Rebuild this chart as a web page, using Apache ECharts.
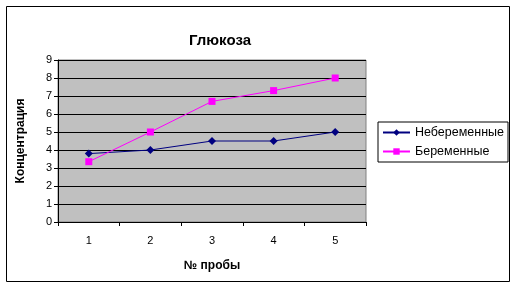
<!DOCTYPE html>
<html><head><meta charset="utf-8">
<script src="https://cdn.jsdelivr.net/npm/echarts@6/dist/echarts.min.js"></script>
<style>html,body{margin:0;padding:0;background:#fff}#c{width:516px;height:287px}</style>
</head><body><div id="c"></div>
<script>
const categories = ['1','2','3','4','5'];
const nonPregnant = [3.8, 4.0, 4.5, 4.5, 5.0];
const pregnant = [3.35, 5.0, 6.7, 7.3, 8.0];
const seriesNames = ['Небеременные','Беременные'];
const F = '"Liberation Sans", Arial, sans-serif';
const chart = echarts.init(document.getElementById('c'), null, {renderer:'canvas'});
chart.setOption({
  backgroundColor:'#fff',
  animation:false,
  graphic:[{type:'rect', shape:{x:6.5,y:6.5,width:503,height:275}, style:{fill:'none',stroke:'#000',lineWidth:1}, z:-1}],
  title:{text:'Глюкоза', left:215, top:28, textAlign:'center',
    textStyle:{fontFamily:F,fontSize:15,fontWeight:'bold',color:'#000'}},
  legend:{orient:'vertical', left:378, top:122, padding:[4,4,4,4], itemGap:6,
    borderColor:'#000', borderWidth:1, itemWidth:27, itemHeight:8,
    textStyle:{fontFamily:F,fontSize:12.5,color:'#000'}, data:seriesNames},
  grid:{left:58, top:60, width:308, height:162, show:true, backgroundColor:'#c0c0c0', borderColor:'#808080', borderWidth:1},
  xAxis:{type:'category', data:categories, boundaryGap:true,
    name:'№ пробы', nameLocation:'middle', nameGap:38,
    nameTextStyle:{fontFamily:F,fontSize:12,fontWeight:'bold',color:'#000'},
    axisLine:{lineStyle:{color:'#000'}}, axisTick:{show:true,length:4,lineStyle:{color:'#000'}},
    axisLabel:{fontFamily:F,fontSize:11,color:'#000',margin:13}, splitLine:{show:false}},
  yAxis:{type:'value', min:0, max:9, interval:1,
    name:'Концентрация', nameLocation:'middle', nameGap:31, nameRotate:90,
    nameTextStyle:{fontFamily:F,fontSize:12,fontWeight:'bold',color:'#000'},
    axisLine:{show:true,lineStyle:{color:'#000'}}, axisTick:{show:true,length:4,lineStyle:{color:'#000'}},
    axisLabel:{fontFamily:F,fontSize:11,color:'#000',margin:6},
    splitLine:{show:true,lineStyle:{color:'#000',width:1}}},
  series:[
    {name:seriesNames[0], type:'line', data:nonPregnant, color:'#000080', symbol:'diamond', symbolSize:8,
     lineStyle:{width:1,color:'#000080'}, itemStyle:{color:'#000080'}},
    {name:seriesNames[1], type:'line', data:pregnant, color:'#ff00ff', symbol:'rect', symbolSize:7,
     lineStyle:{width:1,color:'#ff00ff'}, itemStyle:{color:'#ff00ff'}}
  ]
});
</script></body></html>
